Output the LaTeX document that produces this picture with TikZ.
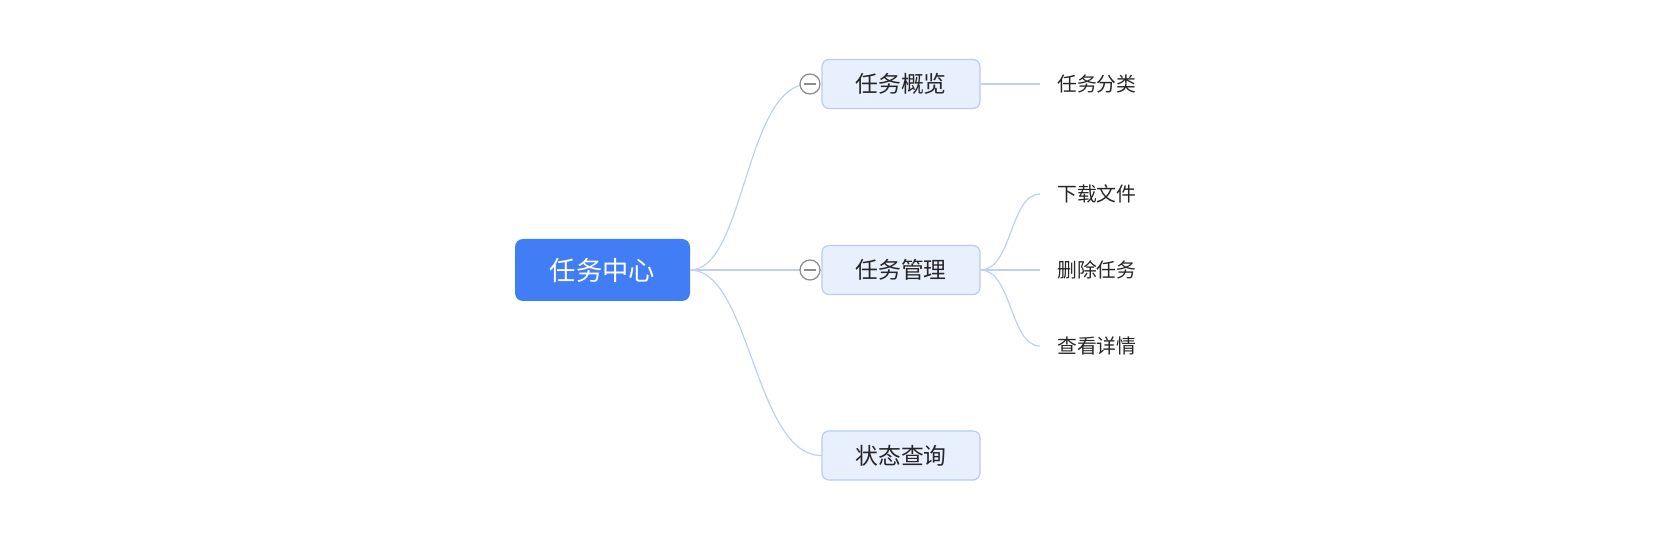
\documentclass[tikz,border=0pt]{standalone}
\usepackage{fontspec}
\setmainfont{Noto Sans CJK SC}
\begin{document}
\begin{tikzpicture}[x=1pt,y=-1pt,
  rootbox/.style={draw=none,fill=rootblue,rounded corners=8pt,minimum width=175pt,minimum height=62pt,inner sep=0pt,text=white,font=\fontsize{26.3}{30}\selectfont},
  childbox/.style={draw=childline,line width=1.2pt,fill=childfill,rounded corners=7pt,minimum width=158pt,minimum height=49pt,inner sep=0pt,text=textdark,font=\fontsize{22.8}{26}\selectfont},
  leaftext/.style={anchor=west,inner sep=0pt,text=textdark,font=\fontsize{19.8}{22}\selectfont},
  link/.style={draw=linkblue,line width=1.2pt},
  collapse/.style={circle,draw=gray!90,line width=1.2pt,fill=white,minimum size=20pt,inner sep=0pt}
]
\definecolor{rootblue}{HTML}{417EF5}
\definecolor{childfill}{HTML}{E8EFFD}
\definecolor{childline}{HTML}{B9CCF1}
\definecolor{linkblue}{HTML}{BFD0F2}
\definecolor{textdark}{HTML}{262626}
\useasboundingbox (0,0) rectangle (1668,534);
\fill[white] (0,0) rectangle (1668,534);

\node[rootbox] (root) at (602.5,270) {任务中心};
\node[childbox] (c1) at (901,84) {任务概览};
\node[childbox] (c2) at (901,270) {任务管理};
\node[childbox] (c3) at (901,455.5) {状态查询};

\node[leaftext] (l1) at (1057,84) {任务分类};
\node[leaftext] (l2) at (1057,194) {下载文件};
\node[leaftext] (l3) at (1057,270) {删除任务};
\node[leaftext] (l4) at (1057,346) {查看详情};

\coordinate (e1) at (1040,84);
\coordinate (e2) at (1040,194);
\coordinate (e3) at (1040,270);
\coordinate (e4) at (1040,346);

% connectors root -> children
\draw[link] (root.east) .. controls (745,270) and (745,84) .. (809,84);
\draw[link] (root.east) -- (c2.west);
\draw[link] (root.east) .. controls (750,270) and (755,455.5) .. (c3.west);

% collapse markers
\node[collapse] (k1) at (810,84) {};
\node[collapse] (k2) at (810,270) {};
\draw[gray!90,line width=1.2pt] ([xshift=-6pt]k1.center) -- ([xshift=6pt]k1.center);
\draw[gray!90,line width=1.2pt] ([xshift=-6pt]k2.center) -- ([xshift=6pt]k2.center);

% child -> leaves
\draw[link] (c1.east) -- (e1);
\draw[link] (c2.east) .. controls (1012,270) and (1010,194) .. (e2);
\draw[link] (c2.east) -- (e3);
\draw[link] (c2.east) .. controls (1012,270) and (1010,346) .. (e4);
\end{tikzpicture}
\end{document}
